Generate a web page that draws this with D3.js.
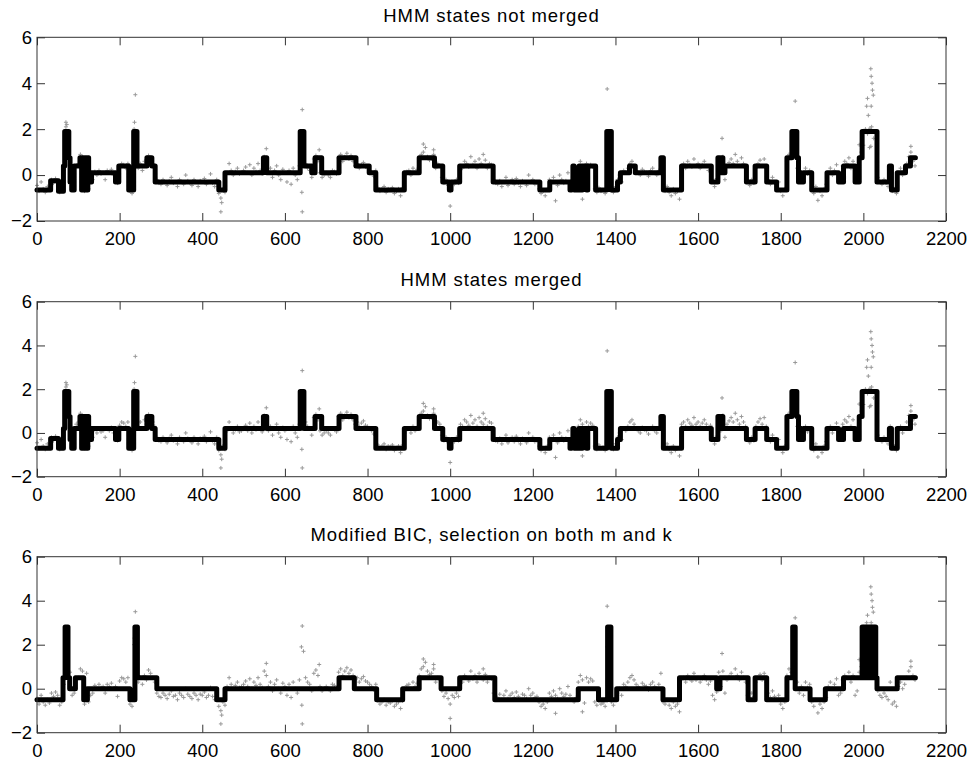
<!DOCTYPE html>
<html>
<head>
<meta charset="utf-8">
<script src="https://cdn.jsdelivr.net/npm/d3@7"></script>
<style>
  body { margin: 0; background: #fff; }
  svg { display: block; }
</style>
</head>
<body>
<svg width="970" height="761"></svg>
<script>
// tick labels and titles
const xTicks = [0, 200, 400, 600, 800, 1000, 1200, 1400, 1600, 1800, 2000, 2200];
const yTicks = [-2, 0, 2, 4, 6];
const titles = ["HMM states not merged", "HMM states merged", "Modified BIC, selection on both m and k"];

const obsStep = 5;
const obsVals = [
  -0.45,-0.7,-0.3,-0.6,-0.75,-0.5,-0.65,-0.2,-0.35,-0.15,-0.3,-0.75,-0.6,0.2,2.1,1.8,0.75,-0.3,-0.2,0.4,
  0.5,0.9,0.8,-0.7,0.7,-0.6,-0.3,-0.2,0.15,0.0,0.2,0.05,0.1,-0.2,0.2,0.1,0.25,0.0,0.1,-0.35,
  0.35,0.5,0.45,0.3,0.5,-0.7,-0.8,2.0,1.8,0.3,0.5,0.2,0.6,0.4,0.85,0.7,0.5,0.3,-0.2,-0.35,
  -0.4,-0.2,-0.3,-0.45,-0.25,-0.1,-0.35,-0.3,-0.5,-0.2,-0.3,-0.4,0.0,-0.25,-0.35,-0.45,-0.2,-0.3,-0.5,-0.25,
  -0.3,-0.15,-0.4,-0.3,0.05,-0.35,-0.5,-0.2,-0.8,-1.0,-0.6,-0.75,0.1,0.5,0.2,0.0,0.15,0.3,0.05,0.1,
  0.2,0.35,0.1,0.45,0.0,0.3,0.15,0.5,0.2,0.05,0.8,0.6,0.1,0.3,-0.1,0.2,0.4,0.0,-0.2,0.25,
  0.1,-0.3,0.2,-0.4,0.3,0.0,-0.2,0.4,1.9,1.7,0.5,0.3,0.2,-0.1,0.7,0.85,0.6,0.1,-0.1,0.0,
  0.1,0.0,-0.1,0.2,0.15,0.05,0.75,0.9,0.6,0.8,0.95,0.7,0.85,0.6,0.4,0.5,0.3,0.45,0.55,0.35,
  0.3,0.2,0.1,-0.05,0.2,-0.55,-0.7,-0.6,-0.5,-0.75,-0.6,-0.65,-0.55,-0.8,-0.7,-0.6,-0.9,-0.55,0.0,0.15,
  0.2,0.0,0.3,0.1,0.25,0.6,0.9,1.0,1.2,0.8,0.65,0.7,0.9,0.3,0.5,0.4,-0.1,-0.35,-0.2,-0.45,
  -0.7,-0.3,-0.4,-0.2,-0.35,0.4,0.3,0.6,0.5,0.35,0.8,0.45,0.6,0.3,0.7,0.5,0.4,0.65,0.3,0.5,
  0.45,-0.2,-0.35,-0.4,-0.25,-0.5,-0.3,-0.1,-0.45,-0.3,-0.2,-0.4,-0.15,-0.35,-0.5,-0.25,-0.3,-0.45,0.0,-0.3,
  -0.2,-0.4,-0.35,-0.6,-0.8,-0.7,-0.9,-0.6,-0.2,-0.35,-0.1,-0.3,-0.45,0.0,-0.2,-0.35,-0.25,0.1,-0.3,-0.5,
  -0.6,-0.4,0.3,0.6,0.4,-0.65,0.5,0.3,0.45,0.35,-0.6,-0.75,-0.55,-0.7,-0.65,-0.8,1.9,1.8,-0.6,-0.75,
  -0.5,-0.2,0.0,-0.3,0.2,0.1,0.3,0.5,0.6,0.4,0.2,0.1,0.0,0.25,0.15,0.1,-0.05,0.2,0.3,0.1,
  0.0,0.2,0.7,-0.6,-0.7,-0.5,-0.75,-0.9,-0.6,-0.8,-0.7,-1.05,0.4,0.5,0.3,0.6,0.45,0.35,0.7,0.4,
  0.5,0.3,0.45,0.6,0.4,0.2,0.35,-0.3,-0.5,-0.15,0.75,0.1,0.8,-0.2,0.4,0.55,0.7,0.5,0.9,0.6,
  0.4,0.75,0.5,0.3,-0.3,-0.45,-0.2,-0.35,0.3,0.5,0.65,0.4,0.7,0.3,-0.2,-0.4,-0.1,-0.35,-0.5,-0.3,
  -0.7,-0.9,-0.6,0.6,0.9,0.75,1.9,1.7,0.3,-0.2,0.1,-0.3,0.3,0.05,0.2,-0.6,-0.8,-0.5,-1.1,-0.7,
  -0.9,-0.6,-0.4,0.1,0.3,0.0,0.2,0.45,-0.3,-0.2,0.4,0.6,0.5,0.75,0.3,0.6,-0.3,-0.1,0.75,1.0,
  1.3,2.0,1.8,1.2,2.1,1.6,1.9,-0.1,-0.3,-0.4,-0.2,-0.35,-0.5,0.3,-0.7,-0.6,-0.8,0.1,0.3,0.0,
  0.2,0.5,0.8,1.0,0.6,0.4
];

// isolated points away from the main cloud [position, value]
const outliers = [
  [70,2.3],[72,2.2],[238,3.5],[236,2.3],[445,-1.6],[447,-1.2],[642,2.85],[641,-0.75],[642,-1.6],
  [555,1.15],[683,1.1],[1000,-1.35],[1380,3.75],[1658,1.6],[1835,3.22],[2018,4.63],[2019,4.3],
  [2021,4.0],[2022,3.7],[2024,3.48],[2010,3.34],[2008,3.0],[2019,3.0],[2012,2.6],[2016,2.04],
  [1990,1.32],[2018,1.25],[1255,-1.12],[1320,-1.05],[2115,1.25],[935,1.35],[960,1.1],[1080,0.9]
];

// segmentations: [start position, level]
const segNotMerged = [
  [0,-0.65],[33,-0.25],[52,-0.7],[64,0.4],[67,1.9],[77,0.75],[80,-0.3],[84,-0.65],[90,0.4],
  [104,0.75],[108,-0.65],[111,0.75],[114,-0.65],[117,0.75],[120,-0.65],[123,0.75],[125,-0.3],[132,0.1],
  [190,-0.3],[198,0.4],[222,-0.65],[234,1.9],[242,0.4],[266,0.75],[278,0.4],[286,-0.3],[440,-0.65],
  [455,0.1],[548,0.75],[556,0.1],[637,1.9],[646,0.4],[665,0.1],[673,0.75],[689,0.1],[731,0.75],
  [772,0.4],[804,0.1],[820,-0.65],[889,0.1],[925,0.75],[962,0.4],[982,-0.3],[998,-0.65],[1002,-0.3],
  [1023,0.4],[1104,-0.3],[1217,-0.65],[1241,-0.3],[1290,-0.65],[1294,-0.3],[1297,0.4],[1300,-0.65],
  [1304,-0.3],[1308,-0.65],[1312,0.4],[1317,-0.65],[1320,0.4],[1330,-0.65],[1333,0.4],[1352,-0.65],
  [1379,1.9],[1390,-0.65],[1405,-0.3],[1412,0.1],[1434,0.4],[1448,0.1],[1510,0.75],[1516,-0.65],
  [1560,0.4],[1632,-0.3],[1648,0.75],[1653,0.1],[1656,0.75],[1660,0.1],[1665,0.4],[1717,-0.3],
  [1738,0.4],[1766,-0.3],[1790,-0.65],[1815,0.75],[1827,1.9],[1839,0.75],[1843,-0.3],[1847,0.1],
  [1850,-0.3],[1855,0.1],[1875,-0.65],[1912,0.1],[1940,-0.3],[1952,0.4],[1980,-0.3],[1990,0.75],
  [1997,1.9],[2033,-0.3],[2063,0.4],[2068,-0.65],[2082,0.1],[2102,0.4],[2114,0.75]
];

const segMerged = [
  [0,-0.7],[33,-0.25],[52,-0.7],[64,0.2],[67,1.9],[77,0.75],[80,-0.3],[84,-0.7],[90,0.2],
  [104,0.75],[108,-0.7],[111,0.75],[114,-0.7],[117,0.75],[120,-0.7],[123,0.75],[125,-0.3],[132,0.2],
  [190,-0.3],[198,0.2],[222,-0.7],[234,1.9],[242,0.2],[266,0.75],[278,0.2],[286,-0.3],[440,-0.7],
  [455,0.2],[548,0.75],[556,0.2],[637,1.9],[646,0.2],[673,0.75],[689,0.2],[731,0.75],[772,0.2],
  [820,-0.7],[889,0.2],[925,0.75],[962,0.2],[982,-0.3],[998,-0.7],[1002,-0.3],[1023,0.2],[1104,-0.3],
  [1217,-0.7],[1241,-0.3],[1290,-0.7],[1294,-0.3],[1297,0.2],[1300,-0.7],[1304,-0.3],[1308,-0.7],
  [1312,0.2],[1317,-0.7],[1320,0.2],[1330,-0.7],[1333,0.2],[1352,-0.7],[1379,1.9],[1390,-0.7],
  [1405,-0.3],[1412,0.2],[1510,0.75],[1516,-0.7],[1560,0.2],[1632,-0.3],[1648,0.75],[1653,0.2],
  [1656,0.75],[1660,0.2],[1717,-0.3],[1738,0.2],[1766,-0.3],[1790,-0.7],[1815,0.75],[1827,1.9],
  [1839,0.75],[1843,-0.3],[1847,0.2],[1850,-0.3],[1855,0.2],[1875,-0.7],[1912,0.2],[1940,-0.3],
  [1952,0.2],[1980,-0.3],[1990,0.75],[1997,1.9],[2033,-0.3],[2063,0.2],[2068,-0.7],[2082,0.2],[2114,0.75]
];

const segBIC = [
  [0,-0.5],[63,0.5],[68,2.8],[75,0.5],[79,0.0],[93,0.5],[113,-0.5],[122,0.0],[225,-0.5],[237,2.8],
  [243,0.5],[290,0.0],[435,-0.5],[455,0.0],[731,0.5],[768,0.0],[822,-0.5],[885,0.0],[925,0.5],
  [978,0.0],[1023,0.5],[1108,-0.5],[1310,0.0],[1359,-0.5],[1381,2.8],[1389,-0.5],[1403,0.0],
  [1515,-0.5],[1555,0.5],[1645,0.0],[1653,0.5],[1721,-0.5],[1738,0.5],[1766,-0.5],[1815,0.5],
  [1829,2.8],[1835,0.0],[1871,-0.5],[1908,0.0],[1952,0.5],
  [1997,2.8],[2000,0.5],[2002,2.8],[2005,0.5],[2007,2.8],[2010,0.5],[2012,2.8],[2015,0.5],
  [2017,2.8],[2020,0.5],[2022,2.8],[2025,0.5],[2027,2.8],[2030,0.5],
  [2033,0.0],[2082,0.5]
];
const seqEnd = 2126;

// layout
const svg = d3.select("svg");
const left = 37, right = 946;
const panels = [
  {title: titles[0], seg: segNotMerged, top: 37.3, bottom: 221},
  {title: titles[1], seg: segMerged, top: 301.7, bottom: 476.7},
  {title: titles[2], seg: segBIC, top: 556.7, bottom: 732.7}
];
const font = "'Liberation Sans', Arial, Helvetica, sans-serif";

const x = d3.scaleLinear().domain([0, 2200]).range([left, right]);

const obs = obsVals.map((v, i) => [i * obsStep, v]).concat(outliers);

panels.forEach(p => {
  const y = d3.scaleLinear().domain([-2, 6]).range([p.bottom, p.top]);
  const g = svg.append("g");

  // gray observations, small crosses
  g.append("g")
    .selectAll("path")
    .data(obs)
    .join("path")
    .attr("d", d => {
      const cx = x(d[0]), cy = y(d[1]), s = 2;
      return `M${cx - s},${cy}H${cx + s}M${cx},${cy - s}V${cy + s}`;
    })
    .attr("stroke", "#999")
    .attr("stroke-width", 1)
    .attr("fill", "none");

  // segmentation step line
  const pts = p.seg.concat([[seqEnd, p.seg[p.seg.length - 1][1]]]);
  const line = d3.line()
    .x(d => x(d[0]))
    .y(d => y(d[1]))
    .curve(d3.curveStepAfter);
  g.append("path")
    .datum(pts)
    .attr("d", line)
    .attr("fill", "none")
    .attr("stroke", "#000")
    .attr("stroke-width", 5)
    .attr("stroke-linejoin", "round")
    .attr("stroke-linecap", "round");

  // axes, ticks inside
  const styleAxis = a => {
    a.select(".domain").remove();
    a.selectAll("line").attr("stroke", "#333");
    a.selectAll("text").attr("fill", "#000").style("font-family", font).style("font-size", "18.5px");
  };
  g.append("g")
    .attr("transform", `translate(0,${p.bottom})`)
    .call(d3.axisBottom(x).tickValues(xTicks).tickSize(-8).tickPadding(11).tickFormat(d3.format("d")))
    .call(styleAxis);
  g.append("g")
    .attr("transform", `translate(0,${p.top})`)
    .call(d3.axisTop(x).tickValues(xTicks).tickSize(-8).tickFormat(""))
    .call(styleAxis);
  g.append("g")
    .attr("transform", `translate(${left},0)`)
    .call(d3.axisLeft(y).tickValues(yTicks).tickSize(-8).tickPadding(5))
    .call(styleAxis);
  g.append("g")
    .attr("transform", `translate(${right},0)`)
    .call(d3.axisRight(y).tickValues(yTicks).tickSize(-8).tickFormat(""))
    .call(styleAxis);

  g.append("rect")
    .attr("x", left)
    .attr("y", p.top)
    .attr("width", right - left)
    .attr("height", p.bottom - p.top)
    .attr("fill", "none")
    .attr("stroke", "#333")
    .attr("stroke-width", 1);

  g.append("text")
    .attr("x", (left + right) / 2)
    .attr("y", p.top - 15.5)
    .attr("text-anchor", "middle")
    .style("font-family", font)
    .style("font-size", "18.5px")
    .style("letter-spacing", "0.9px")
    .text(p.title);
});
</script>
</body>
</html>
